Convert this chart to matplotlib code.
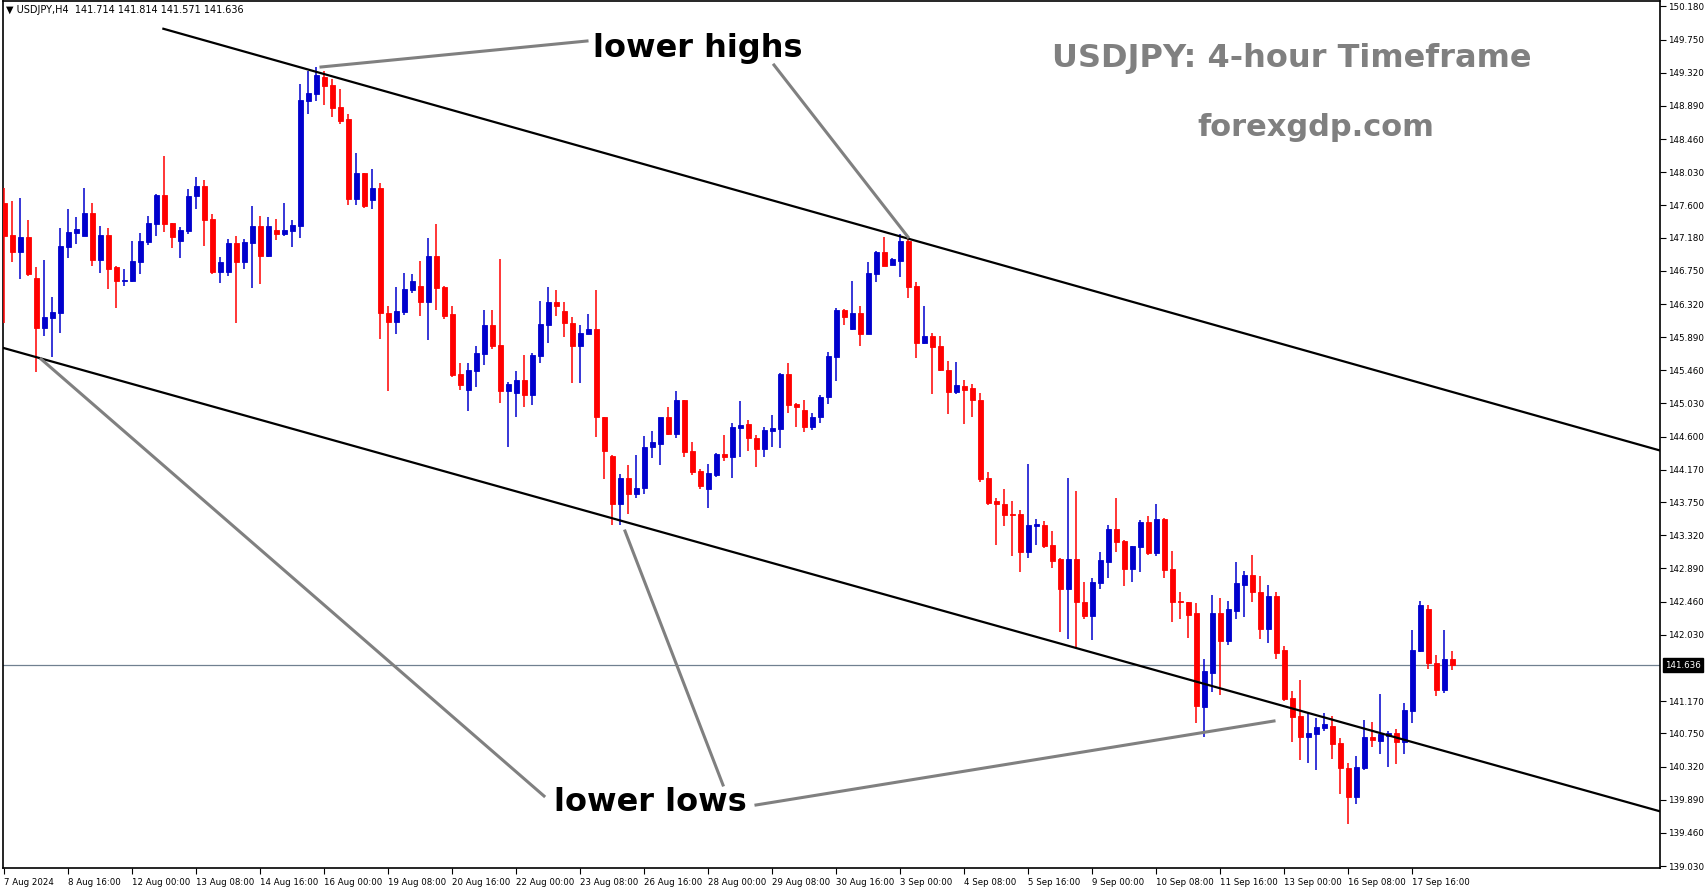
import numpy as np
import matplotlib
matplotlib.use("Agg")
from matplotlib import pyplot as plt
from matplotlib.lines import Line2D

# USDJPY H4 candles
opens = [147.63, 147.21, 146.99, 147.19, 146.66, 146.01, 146.14, 146.20, 147.06, 147.24,
         147.20, 147.50, 146.89, 147.21, 146.80, 146.62, 146.62, 146.86, 147.12, 147.36,
         147.73, 147.37, 147.14, 147.27, 147.72, 147.85, 147.42, 146.73, 146.74, 147.11,
         146.86, 147.11, 147.33, 146.94, 147.28, 147.23, 147.27, 147.33, 148.95, 149.04,
         149.26, 149.16, 148.87, 148.72, 147.68, 148.02, 147.67, 147.82, 146.20, 146.09,
         146.21, 146.50, 146.56, 146.34, 146.94, 146.54, 146.19, 145.41, 145.21, 145.45,
         145.67, 146.05, 145.79, 145.19, 145.16, 145.34, 145.14, 145.64, 146.05, 146.34,
         146.23, 146.08, 145.77, 145.93, 146.00, 144.86, 144.35, 143.72, 144.06, 143.86,
         143.94, 144.46, 144.50, 144.86, 144.64, 145.07, 144.41, 144.15, 143.92, 144.10,
         144.37, 144.34, 144.71, 144.76, 144.58, 144.44, 144.67, 144.70, 145.41, 145.02,
         144.95, 144.72, 144.85, 145.12, 145.63, 146.24, 145.99, 146.20, 145.93, 146.71,
         147.00, 146.82, 146.88, 147.14, 146.55, 145.81, 145.90, 145.77, 145.47, 145.18,
         145.26, 145.23, 145.08, 144.06, 143.76, 143.73, 143.59, 143.59, 143.10, 143.44,
         143.45, 143.19, 143.01, 142.62, 143.01, 142.46, 142.27, 142.70, 142.98, 143.40,
         143.24, 142.88, 143.17, 143.49, 143.09, 143.53, 142.88, 142.47, 142.45, 142.31,
         141.09, 141.54, 142.31, 141.95, 142.34, 142.68, 142.80, 142.59, 142.10, 142.53,
         141.83, 141.21, 140.97, 140.70, 140.74, 140.82, 140.85, 140.62, 140.30, 139.92,
         140.30, 140.71, 140.65, 140.72, 140.75, 140.64, 141.04, 141.82, 142.36, 141.67,
         141.32, 141.714]
highs = [147.82, 147.65, 147.69, 147.41, 146.80, 146.89, 146.41, 147.30, 147.55, 147.45,
         147.82, 147.63, 147.33, 147.30, 146.81, 146.77, 147.14, 147.24, 147.46, 147.75,
         148.24, 147.37, 147.32, 147.81, 147.97, 147.93, 147.49, 146.93, 147.16, 147.20,
         147.16, 147.59, 147.46, 147.45, 147.42, 147.63, 147.41, 149.17, 149.34, 149.39,
         149.34, 149.24, 149.11, 148.78, 148.28, 148.02, 148.07, 147.89, 146.30, 146.54,
         146.72, 146.71, 146.88, 147.17, 147.36, 146.56, 146.30, 145.55, 145.56, 145.77,
         146.24, 146.24, 146.91, 145.31, 145.45, 145.66, 145.68, 146.36, 146.54, 146.50,
         146.34, 146.15, 146.05, 146.19, 146.50, 144.86, 144.36, 144.11, 144.23, 144.36,
         144.61, 144.67, 144.67, 144.98, 145.19, 145.08, 144.53, 144.18, 144.25, 144.39,
         144.62, 144.78, 145.06, 144.82, 144.62, 144.73, 144.88, 145.43, 145.56, 145.03,
         145.08, 144.90, 145.14, 145.70, 146.27, 146.25, 146.62, 146.29, 146.86, 147.01,
         147.19, 146.92, 147.23, 147.16, 146.60, 146.30, 145.94, 145.91, 145.58, 145.57,
         145.33, 145.28, 145.16, 144.14, 143.81, 143.92, 143.76, 143.65, 144.24, 143.53,
         143.50, 143.38, 143.02, 144.06, 143.90, 142.71, 142.76, 143.11, 143.45, 143.81,
         143.26, 143.18, 143.52, 143.57, 143.72, 143.54, 143.12, 142.58, 142.45, 142.44,
         141.71, 142.55, 142.51, 142.47, 142.97, 142.86, 143.06, 142.79, 142.68, 142.58,
         141.89, 141.30, 141.44, 141.03, 140.95, 141.02, 140.97, 140.69, 140.37, 140.46,
         140.93, 140.90, 141.26, 140.78, 140.81, 141.14, 142.09, 142.47, 142.41, 141.77,
         142.09, 141.814]
lows = [146.08, 146.86, 146.65, 146.68, 145.44, 145.90, 145.63, 145.94, 146.92, 147.10,
        147.20, 146.81, 146.72, 146.51, 146.27, 146.55, 146.60, 146.71, 147.08, 147.20,
        147.25, 147.05, 146.92, 147.23, 147.55, 147.07, 146.71, 146.59, 146.68, 146.07,
        146.77, 146.53, 146.58, 146.93, 147.15, 147.20, 147.06, 147.17, 148.78, 148.95,
        148.90, 148.75, 148.65, 147.61, 147.61, 147.57, 147.55, 145.86, 145.19, 145.93,
        146.18, 146.46, 146.17, 145.85, 146.24, 146.12, 145.37, 145.20, 144.93, 145.25,
        145.53, 145.73, 145.03, 144.46, 144.85, 144.98, 145.01, 145.55, 145.82, 146.17,
        145.89, 145.29, 145.29, 145.93, 144.60, 144.05, 143.45, 143.45, 143.60, 143.81,
        143.85, 144.32, 144.23, 144.62, 144.58, 144.33, 144.10, 143.92, 143.68, 144.08,
        144.29, 144.06, 144.34, 144.41, 144.21, 144.34, 144.46, 144.45, 144.90, 144.73,
        144.66, 144.68, 144.78, 145.02, 145.32, 146.05, 145.98, 145.77, 145.93, 146.60,
        146.81, 146.82, 146.67, 146.40, 145.62, 145.80, 145.15, 145.45, 144.89, 145.15,
        144.76, 144.86, 144.01, 143.71, 143.19, 143.44, 143.05, 142.85, 143.03, 143.19,
        143.15, 142.89, 142.06, 141.98, 141.87, 142.23, 141.96, 142.62, 142.77, 143.10,
        142.66, 142.71, 142.85, 143.07, 143.05, 142.76, 142.19, 142.23, 141.99, 140.89,
        140.71, 141.29, 141.25, 141.90, 142.23, 142.26, 142.46, 141.97, 141.92, 141.72,
        141.17, 140.64, 140.41, 140.37, 140.28, 140.78, 140.42, 139.96, 139.58, 139.84,
        140.27, 140.58, 140.48, 140.32, 140.36, 140.48, 140.88, 141.81, 141.58, 141.23,
        141.28, 141.571]
closes = [147.20, 146.99, 147.19, 146.71, 146.01, 146.15, 146.21, 147.07, 147.25, 147.29,
          147.50, 146.89, 147.21, 146.77, 146.62, 146.63, 146.88, 147.14, 147.37, 147.73,
          147.36, 147.19, 147.28, 147.72, 147.85, 147.41, 146.73, 146.86, 147.11, 146.86,
          147.12, 147.33, 146.94, 147.33, 147.23, 147.28, 147.34, 148.97, 149.06, 149.29,
          149.15, 148.86, 148.70, 147.68, 148.02, 147.59, 147.82, 146.20, 146.09, 146.23,
          146.51, 146.62, 146.34, 146.94, 146.53, 146.17, 145.40, 145.27, 145.46, 145.68,
          146.05, 145.77, 145.19, 145.28, 145.34, 145.14, 145.66, 146.06, 146.34, 146.30,
          146.07, 145.77, 145.94, 145.99, 144.85, 144.41, 143.72, 144.06, 143.86, 143.94,
          144.47, 144.53, 144.85, 144.64, 145.07, 144.40, 144.14, 143.96, 144.13, 144.37,
          144.34, 144.72, 144.75, 144.58, 144.44, 144.68, 144.71, 145.41, 145.01, 144.98,
          144.72, 144.86, 145.12, 145.64, 146.24, 146.15, 146.20, 145.93, 146.72, 147.00,
          146.81, 146.91, 147.14, 146.54, 145.81, 145.90, 145.76, 145.46, 145.18, 145.27,
          145.20, 145.07, 144.05, 143.74, 143.73, 143.58, 143.58, 143.10, 143.45, 143.47,
          143.18, 142.99, 142.62, 143.01, 142.45, 142.27, 142.71, 143.00, 143.40, 143.23,
          142.88, 143.18, 143.49, 143.09, 143.53, 142.87, 142.46, 142.45, 142.29, 141.10,
          141.56, 142.31, 141.95, 142.37, 142.70, 142.80, 142.58, 142.10, 142.53, 141.80,
          141.20, 140.96, 140.71, 140.75, 140.83, 140.87, 140.61, 140.30, 139.92, 140.32,
          140.71, 140.66, 140.74, 140.75, 140.64, 141.05, 141.83, 142.41, 141.66, 141.32,
          141.72, 141.636]

price_ticks = [150.180, 149.750, 149.320, 148.890, 148.460, 148.030, 147.600, 147.180,
               146.750, 146.320, 145.890, 145.460, 145.030, 144.600, 144.170, 143.750,
               143.320, 142.890, 142.460, 142.030, 141.170, 140.750, 140.320, 139.890,
               139.460, 139.030]
time_labels = ["7 Aug 2024", "8 Aug 16:00", "12 Aug 00:00", "13 Aug 08:00", "14 Aug 16:00",
               "16 Aug 00:00", "19 Aug 08:00", "20 Aug 16:00", "22 Aug 00:00", "23 Aug 08:00",
               "26 Aug 16:00", "28 Aug 00:00", "29 Aug 08:00", "30 Aug 16:00", "3 Sep 00:00",
               "4 Sep 08:00", "5 Sep 16:00", "9 Sep 00:00", "10 Sep 08:00", "11 Sep 16:00",
               "13 Sep 00:00", "16 Sep 08:00", "17 Sep 16:00"]
last_price = 141.636
# channel lines (bar index, price)
upper_line = [(19.9, 149.89), (207.0, 144.42)]
lower_line = [(-0.1, 145.75), (207.0, 139.74)]

W, H = 1705, 888
fig = plt.figure(figsize=(W / 100, H / 100), dpi=100)
ax = fig.add_axes([3 / W, 1 - 868 / H, (1660 - 3) / W, (868 - 1) / H])

BLUE, RED = "#0000CD", "#FF0000"
o = np.array(opens); h = np.array(highs); l = np.array(lows); c = np.array(closes)
x = np.arange(len(o))
col = [BLUE if cc >= oo else RED for oo, cc in zip(o, c)]
ax.vlines(x, l, h, colors=col, linewidth=1.1, zorder=3)
ax.bar(x, c - o, bottom=o, width=0.62, color=col, edgecolor=col, linewidth=0.6, zorder=4)

ax.axhline(last_price, color="#708090", linewidth=0.9, zorder=1)
for ln in (upper_line, lower_line):
    ax.plot([ln[0][0], ln[1][0]], [ln[0][1], ln[1][1]], color="black", linewidth=1.6, zorder=5)

ax.yaxis.tick_right()
ax.set_yticks(price_ticks)
ax.set_yticklabels([f"{p:.3f}" for p in price_ticks], fontsize=6.3)
ax.set_xticks(np.arange(len(time_labels)) * 8)
ax.set_xticklabels(time_labels, fontsize=6.2, ha="left")
ax.set_xlim(-0.15, 207.0)
ax.set_ylim(139.005, 150.25)
ax.tick_params(axis="both", direction="out", length=4, width=0.8, pad=2)
ax.tick_params(axis="x", pad=3)
for s in ax.spines.values():
    s.set_linewidth(1.2)

# current price label
ax.text(1.003, (last_price - 139.005) / (150.25 - 139.005), f"{last_price:.3f}",
        transform=ax.transAxes, fontsize=6.3, color="white", va="center", ha="left",
        bbox=dict(boxstyle="square,pad=0.25", fc="black", ec="black"), clip_on=False)

fig.text(6 / W, 1 - 10 / H, "\u25bc USDJPY,H4  141.714 141.814 141.571 141.636",
         fontsize=7, va="center", ha="left")

# annotation pointers (figure pixels)
GREY = "#808080"
pointers = [((321, 67), (587, 41)), ((774, 65), (908, 237)),
            ((41, 359), (544, 796)), ((625, 531), (723, 785)), ((756, 805), (1274, 721))]
for (x0, y0), (x1, y1) in pointers:
    fig.add_artist(Line2D([x0 / W, x1 / W], [1 - y0 / H, 1 - y1 / H],
                          color=GREY, linewidth=2.2, zorder=6))

fig.text(698 / W, 1 - 49 / H, "lower highs", fontsize=23, fontweight="bold",
         ha="center", va="center")
fig.text(650 / W, 1 - 802 / H, "lower lows", fontsize=23, fontweight="bold",
         ha="center", va="center")
fig.text(1292 / W, 1 - 58 / H, "USDJPY: 4-hour Timeframe", fontsize=23, fontweight="bold",
         color=GREY, ha="center", va="center")
fig.text(1316 / W, 1 - 128 / H, "forexgdp.com", fontsize=22, fontweight="bold",
         color=GREY, ha="center", va="center")

fig.savefig("out.png", dpi=100)
